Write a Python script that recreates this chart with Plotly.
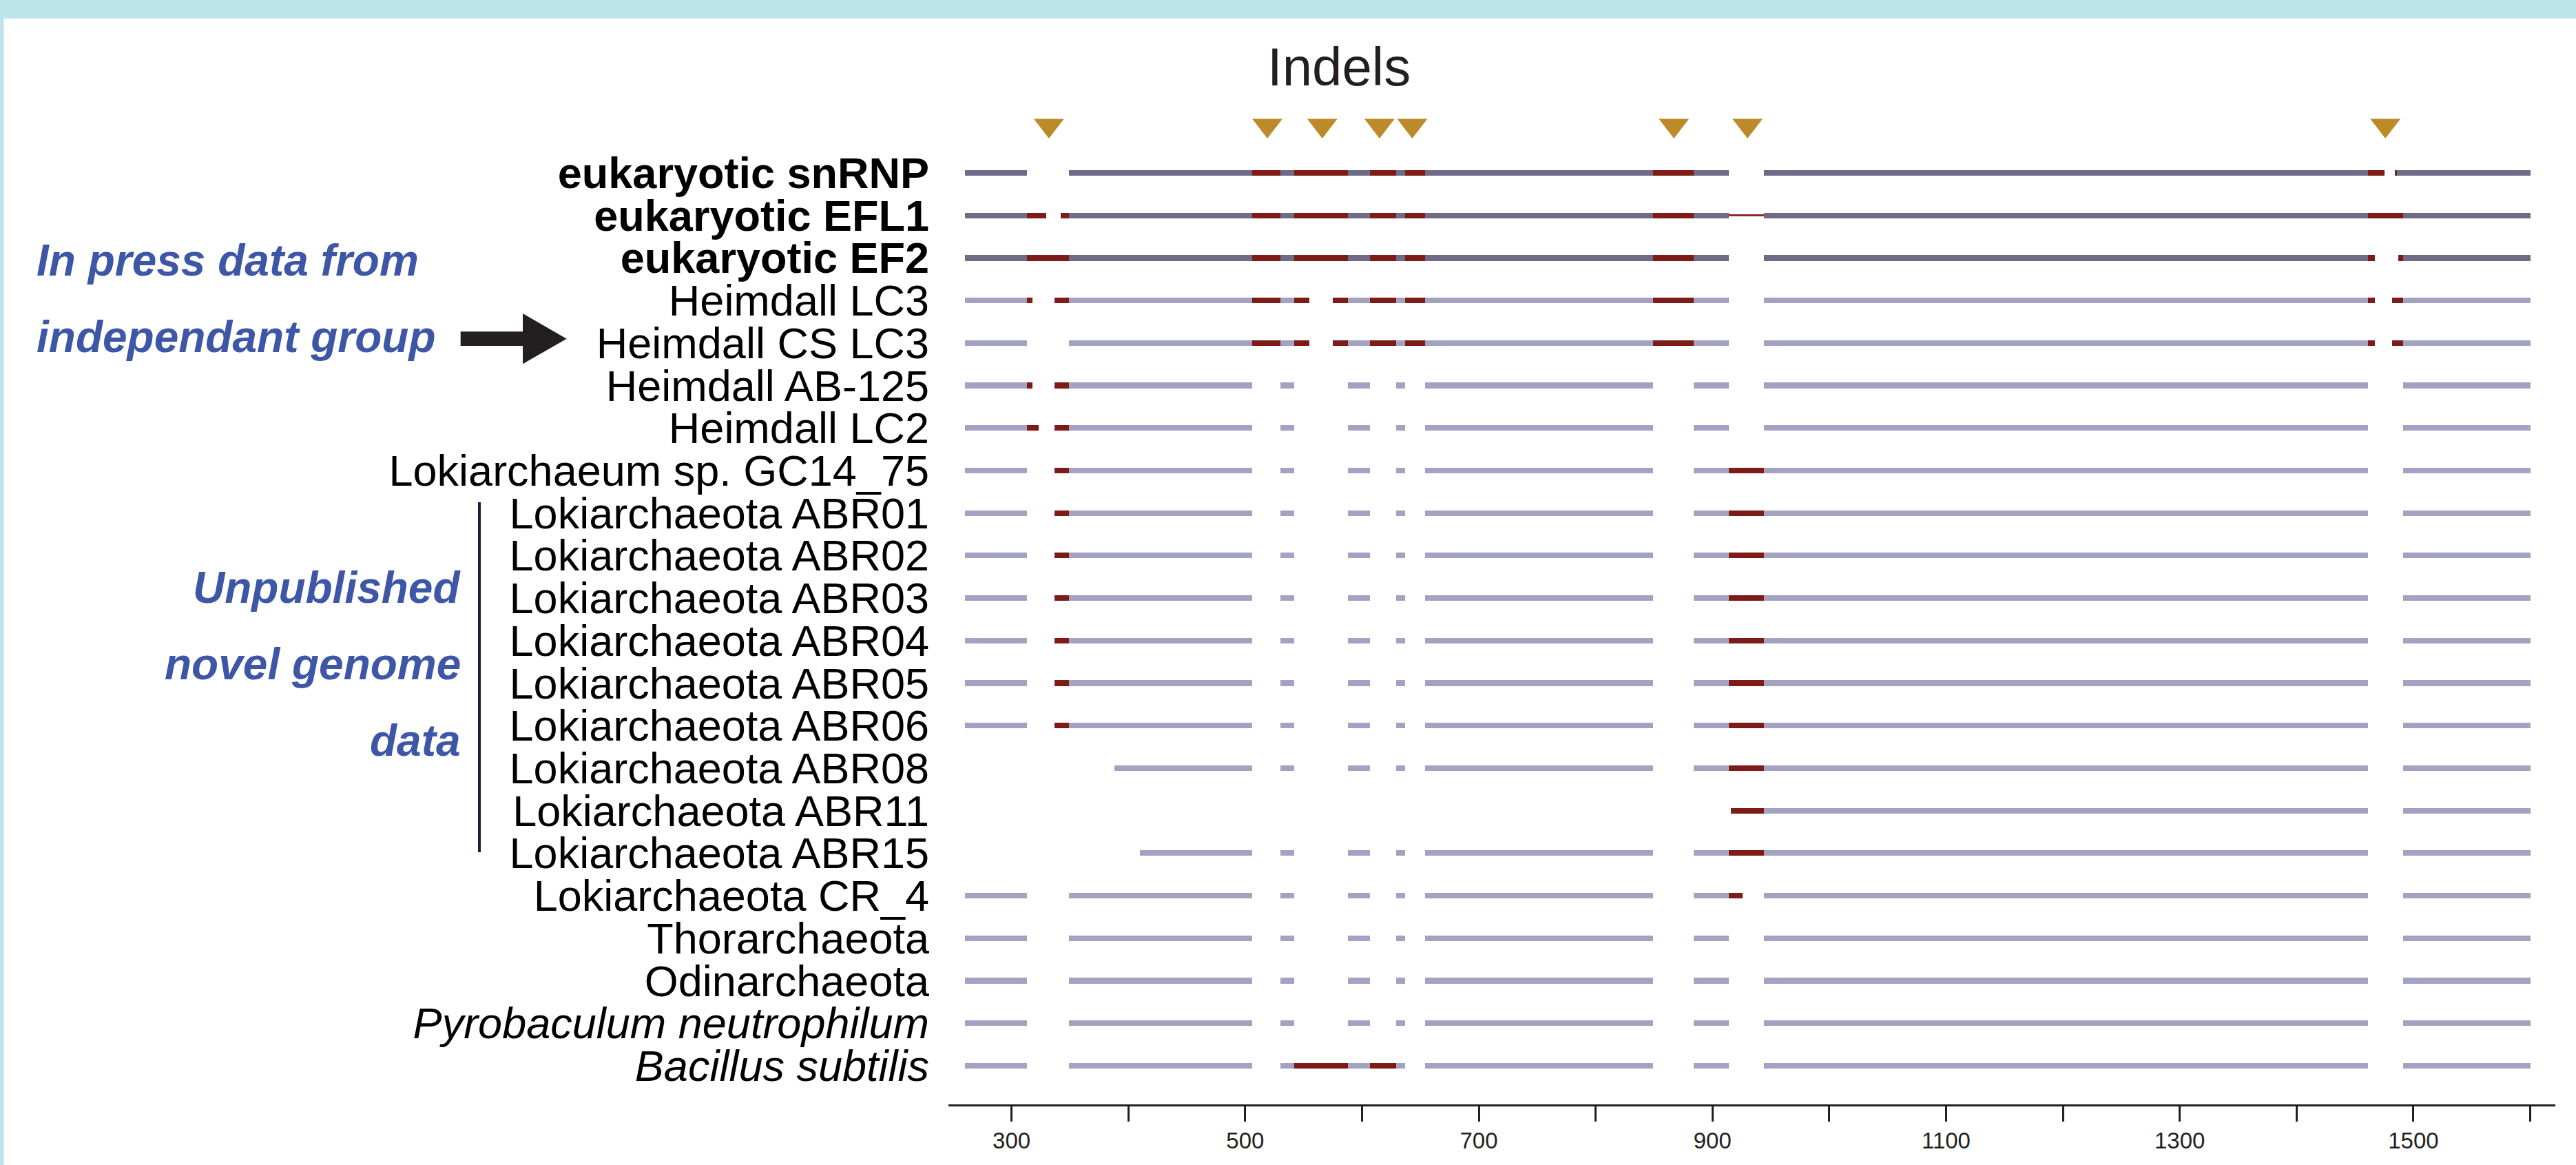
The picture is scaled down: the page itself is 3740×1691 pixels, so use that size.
import plotly.graph_objects as go

# ---------------- data ----------------
ROW_LABELS = [
    "eukaryotic snRNP", "eukaryotic EFL1", "eukaryotic EF2",
    "Heimdall LC3", "Heimdall CS LC3", "Heimdall AB-125", "Heimdall LC2",
    "Lokiarchaeum sp. GC14_75",
    "Lokiarchaeota ABR01", "Lokiarchaeota ABR02", "Lokiarchaeota ABR03",
    "Lokiarchaeota ABR04", "Lokiarchaeota ABR05", "Lokiarchaeota ABR06",
    "Lokiarchaeota ABR08", "Lokiarchaeota ABR11", "Lokiarchaeota ABR15",
    "Lokiarchaeota CR_4", "Thorarchaeota", "Odinarchaeota",
    "Pyrobaculum neutrophilum", "Bacillus subtilis",
]
ROW_STYLE = ["bold"] * 3 + ["normal"] * 17 + ["italic"] * 2
ROW_GROUP = ["euk"] * 3 + ["other"] * 19

# segments: (start, end, kind)  a = aligned, i = indel, t = thin indel
seg_snRNP = [(260, 313, "a"), (349, 506, "a"), (506, 530, "i"), (530, 542, "a"), (542, 588, "i"),
             (588, 607, "a"), (607, 629, "i"), (629, 637, "a"), (637, 654, "i"), (654, 849, "a"),
             (849, 884, "i"), (884, 914, "a"), (944, 1461, "a"), (1461, 1475, "i"), (1484, 1486, "i"),
             (1486, 1600, "a")]
seg_EFL1 = [(260, 313, "a"), (313, 330, "i"), (342, 349, "i"), (349, 506, "a"), (506, 530, "i"),
            (530, 542, "a"), (542, 588, "i"), (588, 607, "a"), (607, 629, "i"), (629, 637, "a"),
            (637, 654, "i"), (654, 849, "a"), (849, 884, "i"), (884, 914, "a"), (914, 944, "t"),
            (944, 1461, "a"), (1461, 1491, "i"), (1491, 1600, "a")]
seg_EF2 = [(260, 313, "a"), (313, 349, "i"), (349, 506, "a"), (506, 530, "i"), (530, 542, "a"),
           (542, 588, "i"), (588, 607, "a"), (607, 629, "i"), (629, 637, "a"), (637, 654, "i"),
           (654, 849, "a"), (849, 884, "i"), (884, 914, "a"), (944, 1461, "a"), (1461, 1467, "i"),
           (1487, 1491, "i"), (1491, 1600, "a")]
seg_LC3 = [(260, 313, "a"), (313, 318, "i"), (337, 349, "i"), (349, 506, "a"), (506, 530, "i"),
           (530, 542, "a"), (542, 555, "i"), (575, 588, "i"), (588, 607, "a"), (607, 629, "i"),
           (629, 637, "a"), (637, 654, "i"), (654, 849, "a"), (849, 884, "i"), (884, 914, "a"),
           (944, 1461, "a"), (1461, 1467, "i"), (1482, 1491, "i"), (1491, 1600, "a")]
seg_CS_LC3 = [(260, 313, "a"), (349, 506, "a"), (506, 530, "i"), (530, 542, "a"), (542, 555, "i"),
              (575, 588, "i"), (588, 607, "a"), (607, 629, "i"), (629, 637, "a"), (637, 654, "i"),
              (654, 849, "a"), (849, 884, "i"), (884, 914, "a"), (944, 1461, "a"), (1461, 1467, "i"),
              (1482, 1491, "i"), (1491, 1600, "a")]
seg_AB125 = [(260, 313, "a"), (313, 318, "i"), (337, 349, "i"), (349, 506, "a"), (530, 542, "a"),
             (588, 607, "a"), (629, 637, "a"), (654, 849, "a"), (884, 914, "a"), (944, 1461, "a"),
             (1491, 1600, "a")]
seg_LC2 = [(260, 313, "a"), (313, 323, "i"), (337, 349, "i"), (349, 506, "a"), (530, 542, "a"),
           (588, 607, "a"), (629, 637, "a"), (654, 849, "a"), (884, 914, "a"), (944, 1461, "a"),
           (1491, 1600, "a")]
seg_GC14 = [(260, 313, "a"), (337, 349, "i"), (349, 506, "a"), (530, 542, "a"), (588, 607, "a"),
            (629, 637, "a"), (654, 849, "a"), (884, 914, "a"), (914, 944, "i"), (944, 1461, "a"),
            (1491, 1600, "a")]
seg_ABR01 = list(seg_GC14)
seg_ABR02 = list(seg_GC14)
seg_ABR03 = list(seg_GC14)
seg_ABR04 = list(seg_GC14)
seg_ABR05 = list(seg_GC14)
seg_ABR06 = list(seg_GC14)
seg_ABR08 = [(388, 506, "a"), (530, 542, "a"), (588, 607, "a"), (629, 637, "a"), (654, 849, "a"),
             (884, 914, "a"), (914, 944, "i"), (944, 1461, "a"), (1491, 1600, "a")]
seg_ABR11 = [(916, 944, "i"), (944, 1461, "a"), (1491, 1600, "a")]
seg_ABR15 = [(410, 506, "a"), (530, 542, "a"), (588, 607, "a"), (629, 637, "a"), (654, 849, "a"),
             (884, 914, "a"), (914, 944, "i"), (944, 1461, "a"), (1491, 1600, "a")]
seg_CR4 = [(260, 313, "a"), (349, 506, "a"), (530, 542, "a"), (588, 607, "a"), (629, 637, "a"),
           (654, 849, "a"), (884, 914, "a"), (914, 926, "i"), (944, 1461, "a"), (1491, 1600, "a")]
seg_Thor = [(260, 313, "a"), (349, 506, "a"), (530, 542, "a"), (588, 607, "a"), (629, 637, "a"),
            (654, 849, "a"), (884, 914, "a"), (944, 1461, "a"), (1491, 1600, "a")]
seg_Odin = list(seg_Thor)
seg_Pyro = list(seg_Thor)
seg_Bacillus = [(260, 313, "a"), (349, 506, "a"), (530, 542, "a"), (542, 588, "i"), (588, 607, "a"),
                (607, 629, "i"), (629, 637, "a"), (654, 849, "a"), (884, 914, "a"), (944, 1461, "a"),
                (1491, 1600, "a")]

ROW_SEGMENTS = [seg_snRNP, seg_EFL1, seg_EF2, seg_LC3, seg_CS_LC3, seg_AB125, seg_LC2, seg_GC14,
                seg_ABR01, seg_ABR02, seg_ABR03, seg_ABR04, seg_ABR05, seg_ABR06, seg_ABR08,
                seg_ABR11, seg_ABR15, seg_CR4, seg_Thor, seg_Odin, seg_Pyro, seg_Bacillus]

INDEL_SITES = [332, 519, 566, 615, 643, 867, 930, 1476]

X_TICKS = [300, 400, 500, 600, 700, 800, 900, 1000, 1100, 1200, 1300, 1400, 1500, 1600]
X_TICK_TEXT = ["300", "", "500", "", "700", "", "900", "", "1100", "", "1300", "", "1500", ""]

# ---------------- style ----------------
W, H = 3740, 1691
L, R, T, B = 1377, 30, 130, 88
ROW0_PX, ROW_STEP_PX = 251.0, 61.71
DARK_BAR = "#6f6b86"
LIGHT_BAR = "#a3a2c3"
INDEL_RED = "#7f1b17"
THIN_RED = "#8e2b28"
GOLD = "#bd8a2a"
BLUE = "#3d56a6"
FRAME = "#bee4eb"
INK = "#231f20"
FONT = "Liberation Sans, Arial, Helvetica, sans-serif"

plot_w = W - L - R
plot_h = H - T - B


def px_x(px):
    return (px - L) / plot_w


def px_y(py):
    return 1 - (py - T) / plot_h


def row_of_px(py):
    return (py - ROW0_PX) / ROW_STEP_PX


BAR_H = 8.2 / ROW_STEP_PX
THIN_H = 2.8 / ROW_STEP_PX

# ---------------- build traces ----------------
groups = {"dark": ([], [], []), "light": ([], [], []), "indel": ([], [], []), "thin": ([], [], [])}
for i, segs in enumerate(ROW_SEGMENTS):
    for (s, e, k) in segs:
        if k == "a":
            key = "dark" if ROW_GROUP[i] == "euk" else "light"
        elif k == "i":
            key = "indel"
        else:
            key = "thin"
        ys, bases, lens = groups[key]
        ys.append(i)
        bases.append(s)
        lens.append(e - s)

colors = {"dark": DARK_BAR, "light": LIGHT_BAR, "indel": INDEL_RED, "thin": THIN_RED}
widths = {"dark": BAR_H, "light": BAR_H, "indel": BAR_H, "thin": THIN_H}

fig = go.Figure()
for key in ["dark", "light", "indel", "thin"]:
    ys, bases, lens = groups[key]
    fig.add_trace(go.Bar(
        orientation="h", y=ys, x=lens, base=bases, width=widths[key],
        marker=dict(color=colors[key], line=dict(width=0)),
        hoverinfo="skip", showlegend=False,
    ))

tri_row = row_of_px(182)
fig.add_trace(go.Scatter(
    x=INDEL_SITES, y=[tri_row] * len(INDEL_SITES), mode="markers",
    marker=dict(symbol="triangle-down", size=38, color=GOLD, line=dict(width=0)),
    hoverinfo="skip", showlegend=False, cliponaxis=False,
))

tick_text = []
for lab, st in zip(ROW_LABELS, ROW_STYLE):
    if st == "bold":
        tick_text.append("<b>" + lab + "</b>")
    elif st == "italic":
        tick_text.append("<i>" + lab + "</i>")
    else:
        tick_text.append(lab)

y_bottom = row_of_px(H - B)
y_top = row_of_px(T)

fig.update_layout(
    width=W, height=H,
    margin=dict(l=L, r=R, t=T, b=B, pad=0),
    paper_bgcolor="white", plot_bgcolor="white",
    barmode="overlay", bargap=0,
    font=dict(family=FONT, color="black"),
    xaxis=dict(
        range=[246, 1621.5], showgrid=False, zeroline=False,
        showline=True, linecolor=INK, linewidth=2.5,
        ticks="outside", ticklen=22, tickwidth=2.5, tickcolor=INK,
        tickmode="array", tickvals=X_TICKS, ticktext=X_TICK_TEXT,
        tickfont=dict(family=FONT, size=33, color=INK),
    ),
    yaxis=dict(
        range=[y_bottom, y_top], showgrid=False, zeroline=False, showline=False,
        ticks="", tickmode="array", tickvals=list(range(len(ROW_LABELS))), ticktext=tick_text,
        tickfont=dict(family=FONT, size=63, color="black"),
        ticklabelstandoff=27,
    ),
)

# ---------------- decorations ----------------
shapes = []
# frame bands
shapes.append(dict(type="rect", xref="paper", yref="paper", x0=px_x(0), x1=px_x(W), y0=px_y(0), y1=px_y(27),
                   fillcolor=FRAME, line=dict(width=0), layer="above"))
shapes.append(dict(type="rect", xref="paper", yref="paper", x0=px_x(0), x1=px_x(5.5), y0=px_y(0), y1=px_y(H),
                   fillcolor=FRAME, line=dict(width=0), layer="above"))
# bracket line next to unpublished genomes
shapes.append(dict(type="line", xref="paper", yref="paper", x0=px_x(696), x1=px_x(696),
                   y0=px_y(729), y1=px_y(1237), line=dict(color="#1f1b3f", width=4)))
# block arrow
pts = [(668.7, 481.3), (759, 481.3), (759, 455), (822.7, 491.7), (759, 528.3), (759, 502), (668.7, 502)]
path = "M " + " L ".join(f"{px_x(a):.6f},{px_y(b):.6f}" for a, b in pts) + " Z"
shapes.append(dict(type="path", xref="paper", yref="paper", path=path, fillcolor=INK, line=dict(width=0)))
fig.update_layout(shapes=shapes)

BASE_SHIFT = 0.3465  # baseline offset from box centre (em)


def add_text(text, x_px, baseline_px, size, anchor, color, bold=False, italic=False):
    t = text
    if bold:
        t = "<b>" + t + "</b>"
    if italic:
        t = "<i>" + t + "</i>"
    fig.add_annotation(text=t, xref="paper", yref="paper", x=px_x(x_px),
                       y=px_y(baseline_px - BASE_SHIFT * size), xanchor=anchor, yanchor="middle",
                       showarrow=False, font=dict(family=FONT, size=size, color=color))


add_text("Indels", 1943.5, 124, 78, "center", INK)
add_text("In press data from", 51, 400, 64, "left", BLUE, bold=True, italic=True)
add_text("independant group", 51, 511, 64, "left", BLUE, bold=True, italic=True)
add_text("Unpublished", 671, 875, 64, "right", BLUE, bold=True, italic=True)
add_text("novel genome", 671, 986, 64, "right", BLUE, bold=True, italic=True)
add_text("data", 671, 1097.5, 64, "right", BLUE, bold=True, italic=True)

fig.write_html(
    "out.html",
    config={"displayModeBar": False},
    post_script="document.body.style.margin='0';document.body.style.overflow='hidden';"
                "document.documentElement.style.overflow='hidden';",
)
